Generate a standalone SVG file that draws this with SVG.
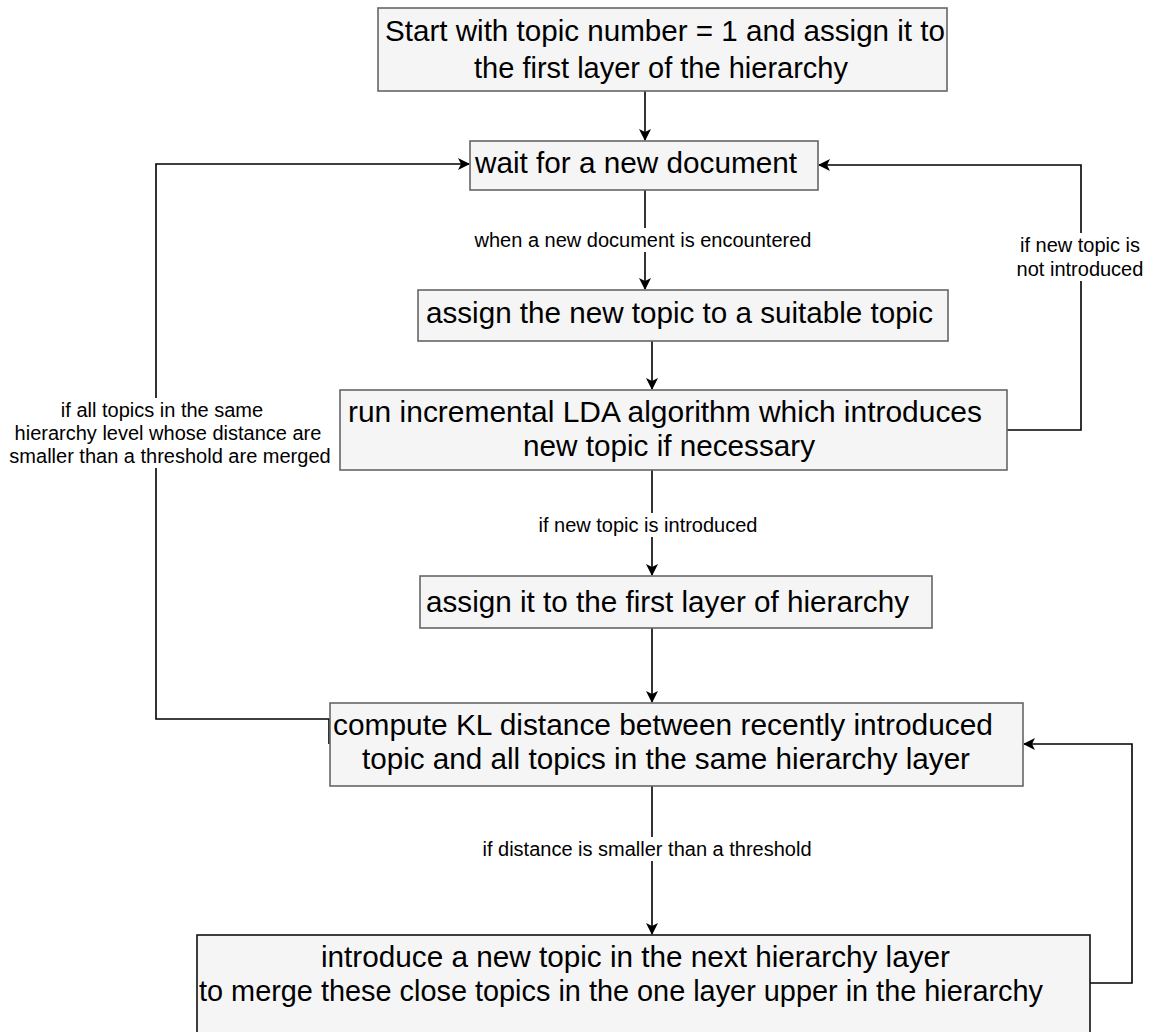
<svg xmlns="http://www.w3.org/2000/svg" width="1153" height="1032" viewBox="0 0 1153 1032">
  <defs>
    <marker id="arrow" viewBox="0 0 12 12" refX="11" refY="6" markerWidth="12" markerHeight="12" markerUnits="userSpaceOnUse" orient="auto">
      <path d="M0,0 L12,6 L0,12 L3,6 Z" fill="#000"/>
    </marker>
    <style>
      .box { fill: #f5f5f5; stroke: #666666; stroke-width: 1.6; }
      .box-dark { fill: #f5f5f5; stroke: #111111; stroke-width: 1.6; }
      .txt { font-family: "Liberation Sans", Arial, sans-serif; font-size: 29px; fill: #000; }
      .lbl { font-family: "Liberation Sans", Arial, sans-serif; font-size: 20px; fill: #000; text-anchor: middle; }
      .edge { fill: none; stroke: #000; stroke-width: 1.6; }
      .lblbg { fill: #ffffff; }
    </style>
  </defs>
  <rect width="1153" height="1032" fill="#ffffff"/>

  <!-- connectors -->
  <g id="connectors">
    <path class="edge" d="M645,91 V140" marker-end="url(#arrow)"/>
    <path class="edge" d="M645,190 V289" marker-end="url(#arrow)"/>
    <path class="edge" d="M652,341 V389" marker-end="url(#arrow)"/>
    <path class="edge" d="M652,470 V575" marker-end="url(#arrow)"/>
    <path class="edge" d="M652,628 V702" marker-end="url(#arrow)"/>
    <path class="edge" d="M652,786 V934" marker-end="url(#arrow)"/>
    <!-- no new topic: back to waiting -->
    <path class="edge" d="M1007,430 H1081 V165 H819" marker-end="url(#arrow)"/>
    <!-- merged: back to waiting -->
    <path class="edge" d="M329,744 V719 H156 V164 H469" marker-end="url(#arrow)"/>
    <!-- new upper-layer topic: compute distances again -->
    <path class="edge" d="M1090,983 H1132 V744 H1024" marker-end="url(#arrow)"/>

    <!-- edge labels -->
    <rect class="lblbg" x="472" y="228" width="342" height="24"/>
    <text class="lbl" x="643" y="247">when a new document is encountered</text>
    <rect class="lblbg" x="536" y="513" width="226" height="24"/>
    <text class="lbl" x="648" y="532">if new topic is introduced</text>
    <rect class="lblbg" x="478" y="837" width="340" height="24"/>
    <text class="lbl" x="647" y="856">if distance is smaller than a threshold</text>
    <rect class="lblbg" x="1013" y="233" width="136" height="48"/>
    <text class="lbl" x="1080" y="252">if new topic is</text>
    <text class="lbl" x="1080" y="276">not introduced</text>
    <rect class="lblbg" x="8" y="398" width="324" height="70"/>
    <text class="lbl" x="162" y="417">if all topics in the same</text>
    <text class="lbl" x="168" y="440">hierarchy level whose distance are</text>
    <text class="lbl" x="170" y="463">smaller than a threshold are merged</text>
  </g>

  <g id="start">
    <rect class="box" x="378" y="8" width="569" height="83"/>
    <text class="txt" x="385" y="41" textLength="560" lengthAdjust="spacingAndGlyphs">Start with topic number = 1 and assign it to</text>
    <text class="txt" x="661" y="78" font-size="30" text-anchor="middle">the first layer of the hierarchy</text>
  </g>

  <g id="wait">
    <rect class="box" x="470" y="141" width="348" height="49"/>
    <text class="txt" x="475" y="173" textLength="322" lengthAdjust="spacingAndGlyphs">wait for a new document</text>
  </g>

  <g id="assign-topic">
    <rect class="box" x="418" y="290" width="530" height="51"/>
    <text class="txt" x="426" y="323" textLength="507" lengthAdjust="spacingAndGlyphs">assign the new topic to a suitable topic</text>
  </g>

  <g id="lda">
    <rect class="box" x="340" y="390" width="667" height="80"/>
    <text class="txt" x="348" y="422" textLength="634" lengthAdjust="spacingAndGlyphs">run incremental LDA algorithm which introduces</text>
    <text class="txt" x="523" y="456" textLength="292" lengthAdjust="spacingAndGlyphs">new topic if necessary</text>
  </g>

  <g id="first-layer">
    <rect class="box" x="420" y="576" width="512" height="52"/>
    <text class="txt" x="426" y="612" textLength="483" lengthAdjust="spacingAndGlyphs">assign it to the first layer of hierarchy</text>
  </g>

  <g id="kl-distance">
    <rect class="box" x="330" y="703" width="693" height="83"/>
    <text class="txt" x="333" y="735" textLength="660" lengthAdjust="spacingAndGlyphs">compute KL distance between recently introduced</text>
    <text class="txt" x="362" y="769" textLength="608" lengthAdjust="spacingAndGlyphs">topic and all topics in the same hierarchy layer</text>
  </g>

  <g id="merge">
    <rect class="box-dark" x="197" y="935" width="893" height="110"/>
    <text class="txt" x="321" y="967" textLength="629" lengthAdjust="spacingAndGlyphs">introduce a new topic in the next hierarchy layer</text>
    <text class="txt" x="199" y="1001" textLength="844" lengthAdjust="spacingAndGlyphs">to merge these close topics in the one layer upper in the hierarchy</text>
  </g>
</svg>
